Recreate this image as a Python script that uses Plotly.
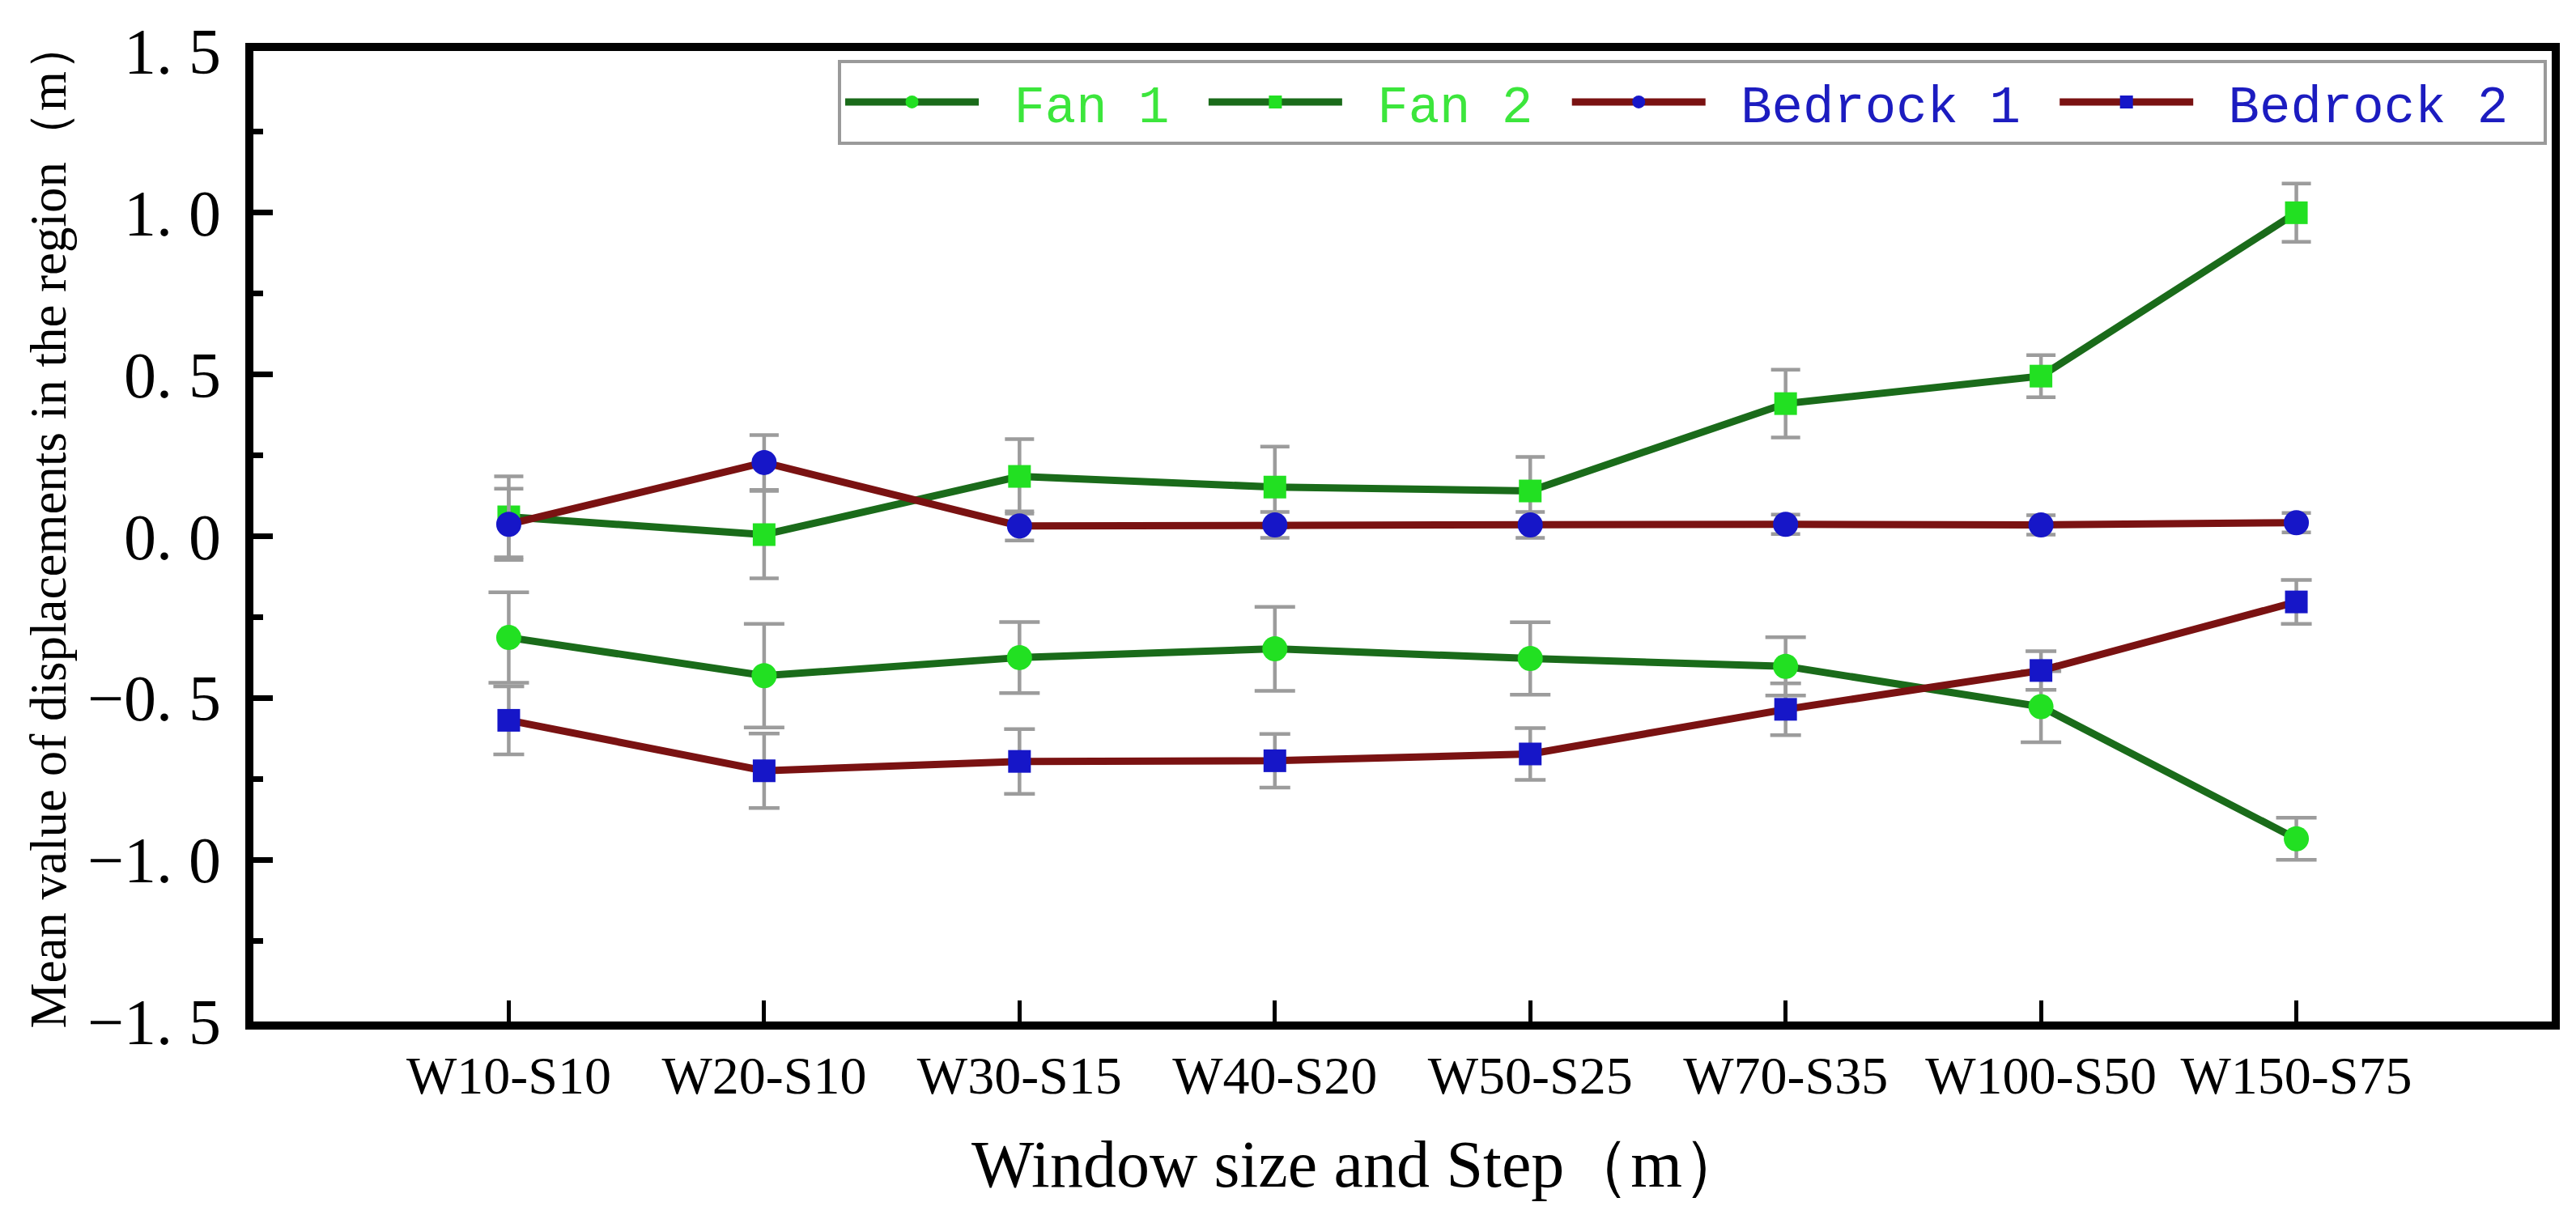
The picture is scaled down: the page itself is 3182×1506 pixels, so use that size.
import plotly.graph_objects as go

categories = ["W10-S10", "W20-S10", "W30-S15", "W40-S20", "W50-S25", "W70-S35", "W100-S50", "W150-S75"]

fan1 = [-0.313, -0.431, -0.375, -0.348, -0.378, -0.402, -0.527, -0.935]
fan1_err = [0.14, 0.16, 0.11, 0.13, 0.112, 0.09, 0.11, 0.065]

fan2 = [0.06, 0.005, 0.185, 0.152, 0.14, 0.41, 0.495, 1.0]
fan2_err = [0.125, 0.135, 0.115, 0.125, 0.105, 0.105, 0.065, 0.09]

bedrock1 = [0.037, 0.228, 0.032, 0.035, 0.035, 0.037, 0.035, 0.042]
bedrock1_err = [0.11, 0.085, 0.045, 0.04, 0.04, 0.03, 0.03, 0.03]

bedrock2 = [-0.569, -0.725, -0.696, -0.694, -0.673, -0.535, -0.415, -0.203]
bedrock2_err = [0.105, 0.115, 0.10, 0.083, 0.08, 0.08, 0.06, 0.068]

y_tickvals = [-1.5, -1.0, -0.5, 0.0, 0.5, 1.0, 1.5]
y_ticktext = ["\u22121. 5", "\u22121. 0", "\u22120. 5", "0. 0", "0. 5", "1. 0", "1. 5"]

FAN_LINE = "#1a6b1a"
FAN_MARK = "#22e022"
BED_LINE = "#7a1212"
BED_MARK = "#1616c8"
ERR = "#9c9c9c"
FAN_TXT = "#3ce63c"
BED_TXT = "#1c1cc0"

series = [
    ("Fan 1", fan1, fan1_err, FAN_LINE, FAN_MARK, "circle", FAN_TXT, 25),
    ("Fan 2", fan2, fan2_err, FAN_LINE, FAN_MARK, "square", FAN_TXT, 18),
    ("Bedrock 1", bedrock1, bedrock1_err, BED_LINE, BED_MARK, "circle", BED_TXT, 18),
    ("Bedrock 2", bedrock2, bedrock2_err, BED_LINE, BED_MARK, "square", BED_TXT, 19),
]

fig = go.Figure()
for name, vals, errs, lc, mc, sym, tc, capw in series:
    fig.add_trace(go.Scatter(
        x=categories, y=vals,
        mode="lines+markers",
        name=f"<span style='color:{tc}'>\u00a0{name}\u00a0</span>",
        line=dict(color=lc, width=9),
        marker=dict(color=mc, symbol=sym, size=31 if sym == "circle" else 28,
                    line=dict(width=0)),
        error_y=dict(type="data", array=errs, visible=True,
                     color=ERR, thickness=4.5, width=capw),
    ))

fig.update_layout(
    width=3166, height=1490,
    margin=dict(l=305, r=18, t=33, b=236),
    paper_bgcolor="white", plot_bgcolor="white",
    font=dict(family="Liberation Serif", color="black"),
    showlegend=True,
    legend=dict(
        orientation="h",
        x=0.9979, xanchor="right",
        y=0.991, yanchor="top",
        bgcolor="white",
        bordercolor="#9a9a9a", borderwidth=4,
        font=dict(family="Liberation Mono", size=64),
        itemwidth=165,
        tracegroupgap=0,
    ),
    annotations=[
        dict(text="Window size and Step\uff08m\uff09", xref="paper", yref="paper",
             x=0.4815, y=-0.147, xanchor="center", yanchor="middle", showarrow=False,
             font=dict(family="Liberation Serif", size=82, color="black")),
        dict(text="Mean value of displacements in the region\uff08m\uff09", xref="paper", yref="paper",
             x=-0.089, y=0.5127, xanchor="center", yanchor="middle", showarrow=False,
             textangle=-90,
             font=dict(family="Liberation Serif", size=63, color="black")),
    ],
)

fig.update_xaxes(
    type="category",
    range=[-1, 8],
    showline=True, linecolor="black", linewidth=10, mirror=True,
    ticks="inside", ticklen=26, tickwidth=5, tickcolor="black",
    tickfont=dict(family="Liberation Serif", size=66, color="black"),
    showgrid=False, zeroline=False,
)
fig.update_yaxes(
    range=[-1.5, 1.5],
    tickvals=y_tickvals, ticktext=y_ticktext,
    showline=True, linecolor="black", linewidth=10, mirror=True,
    ticks="inside", ticklen=24, tickwidth=7, tickcolor="black",
    minor=dict(ticks="inside", ticklen=12, tickwidth=7, tickcolor="black", dtick=0.25, tick0=0),
    tickfont=dict(family="Liberation Serif", size=80, color="black"),
    ticklabelstandoff=14,
    ticklabeloverflow="allow",
    showgrid=False, zeroline=False,
)

fig.write_html("out.html")
